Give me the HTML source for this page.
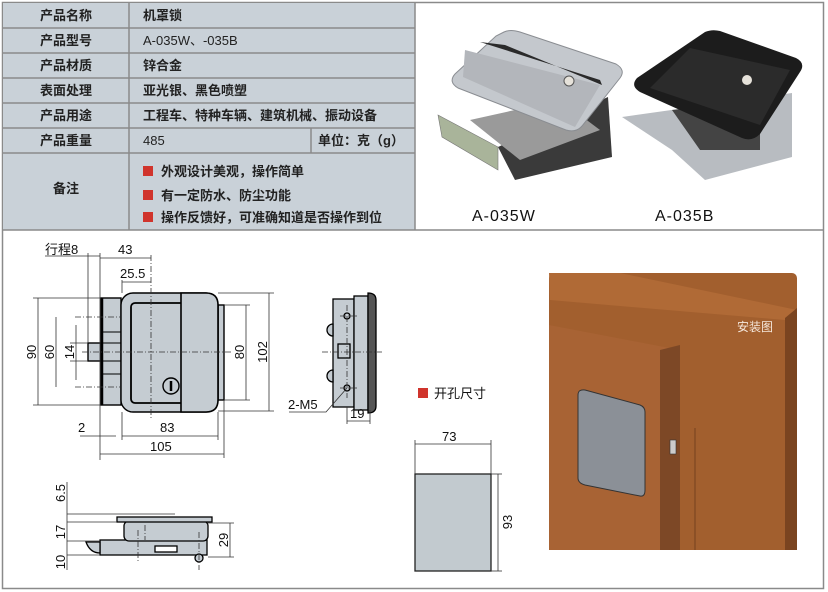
<!DOCTYPE html>
<html><head><meta charset="utf-8"><style>
html,body{margin:0;padding:0;background:#fff;}
svg{display:block;}
text{font-family:"Liberation Sans","Noto Sans CJK SC",sans-serif;}
</style></head><body>
<svg width="828" height="592" viewBox="0 0 828 592" xmlns="http://www.w3.org/2000/svg">
<rect x="2.5" y="2.5" width="821" height="586" fill="#fff" stroke="#8a8a8a" stroke-width="1.5"/>
<rect x="3" y="3" width="412" height="227" fill="#c9d1d8"/>
<g stroke="#8a8a8a" stroke-width="1.5" fill="none">
<line x1="3" y1="28" x2="415" y2="28"/><line x1="3" y1="53" x2="415" y2="53"/>
<line x1="3" y1="78" x2="415" y2="78"/><line x1="3" y1="103" x2="415" y2="103"/>
<line x1="3" y1="128" x2="415" y2="128"/><line x1="3" y1="153" x2="415" y2="153"/>
<line x1="129" y1="3" x2="129" y2="230"/><line x1="311" y1="128" x2="311" y2="153"/>
<line x1="415" y1="3" x2="415" y2="230"/><line x1="3" y1="230" x2="824" y2="230"/>
</g>
<g font-size="13" font-weight="bold" fill="#222" text-anchor="middle">
<text x="66" y="20">产品名称</text><text x="66" y="45">产品型号</text>
<text x="66" y="70">产品材质</text><text x="66" y="95">表面处理</text>
<text x="66" y="120">产品用途</text><text x="66" y="145">产品重量</text>
<text x="66" y="193">备注</text>
</g>
<g font-size="13" fill="#222">
<text x="143" y="20" font-weight="bold">机罩锁</text>
<text x="143" y="45">A-035W、-035B</text>
<text x="143" y="70" font-weight="bold">锌合金</text>
<text x="143" y="95" font-weight="bold">亚光银、黑色喷塑</text>
<text x="143" y="120" font-weight="bold">工程车、特种车辆、建筑机械、振动设备</text>
<text x="143" y="145">485</text>
<text x="318" y="145" font-weight="bold">单位：克（g）</text>
<text x="161" y="176" font-weight="bold">外观设计美观，操作简单</text>
<text x="161" y="200" font-weight="bold">有一定防水、防尘功能</text>
<text x="161" y="222" font-weight="bold">操作反馈好，可准确知道是否操作到位</text>
</g>
<g fill="#d0342c"><rect x="143" y="166" width="10" height="10"/><rect x="143" y="190" width="10" height="10"/><rect x="143" y="212" width="10" height="10"/></g>

<!-- silver product -->
<polygon points="498,147 608,97 612,157 515,180" fill="#3a3a3a"/>
<polygon points="470,120 560,100 600,130 520,160" fill="#9a9a9a"/>
<polygon points="438,115 498,147 498,170 442,137" fill="#a9b49a" stroke="#777" stroke-width="0.6"/>
<path d="M504,32 Q510,29 520,32 L616,64 Q626,70 620,78 L582,126 Q576,133 566,130 L458,88 Q448,82 455,74 L496,36 Z" fill="#c4c8cd" stroke="#8a8d92" stroke-width="1"/>
<polygon points="465,50 600,85 575,127 463,77" fill="#b3b6bb"/>
<polygon points="480,42 600,80 602,85 505,45" fill="#2a2a2a"/>
<circle cx="569" cy="81" r="5" fill="#e6e2da" stroke="#555"/>
<!-- black product -->
<polygon points="622,117 672,150 705,180 792,157 792,93" fill="#b8bcc1"/>
<polygon points="672,110 760,100 760,150 700,150" fill="#444"/>
<path d="M705,32 Q712,29 720,31 L796,58 Q806,63 800,72 L760,134 Q752,142 742,138 L640,92 Q630,86 637,78 Z" fill="#1c1c1c"/>
<polygon points="690,48 790,70 760,125 650,88" fill="#2b2b2b"/>
<circle cx="747" cy="80" r="5" fill="#e6e2da"/>
<g font-size="16" fill="#111" letter-spacing="1">
<text x="472" y="221">A-035W</text><text x="655" y="221">A-035B</text>
</g>

<!-- front view -->
<g stroke="#000" fill="#c5ccd2" stroke-width="1.4">
<rect x="88" y="343" width="13" height="18"/>
<rect x="101" y="298" width="20" height="107"/>
<rect x="218" y="305" width="6" height="95"/>
<rect x="121" y="293" width="97" height="119" rx="12"/>
<rect x="131" y="303" width="78" height="100" rx="4" fill="none" stroke-width="1.8"/>
<path d="M181,293 L206,293 Q218,293 218,305 L218,400 Q218,412 206,412 L181,412 Z" stroke-width="1.6"/>
<circle cx="171" cy="386" r="8" fill="none"/>
</g>
<g stroke="#000" stroke-width="2.5"><line x1="102" y1="298" x2="102" y2="405"/><line x1="171" y1="381" x2="171" y2="391"/></g>
<g stroke="#000" stroke-width="1"><line x1="101" y1="332" x2="121" y2="332"/><line x1="101" y1="343" x2="121" y2="343"/><line x1="101" y1="361" x2="121" y2="361"/><line x1="101" y1="374" x2="121" y2="374"/></g>
<g stroke="#333" stroke-width="0.8" stroke-dasharray="6,2,1,2" fill="none">
<line x1="151" y1="255" x2="151" y2="420"/><line x1="82" y1="352" x2="232" y2="352"/>
<line x1="75" y1="317" x2="120" y2="317"/><line x1="75" y1="387" x2="120" y2="387"/>
</g>
<g stroke="#333" stroke-width="0.8" fill="none">
<line x1="33" y1="298" x2="100" y2="298"/><line x1="33" y1="405" x2="100" y2="405"/><line x1="38" y1="298" x2="38" y2="405"/>
<line x1="56" y1="317" x2="56" y2="387"/>
<line x1="70" y1="343" x2="88" y2="343"/><line x1="70" y1="361" x2="88" y2="361"/><line x1="76" y1="325" x2="76" y2="380"/>
<line x1="224" y1="305" x2="250" y2="305"/><line x1="224" y1="400" x2="250" y2="400"/><line x1="246" y1="305" x2="246" y2="400"/>
<line x1="218" y1="293" x2="274" y2="293"/><line x1="218" y1="411" x2="274" y2="411"/><line x1="269" y1="293" x2="269" y2="411"/>
<line x1="45" y1="256" x2="100" y2="256"/><line x1="88" y1="253" x2="88" y2="343"/><line x1="100" y1="253" x2="100" y2="460"/>
<line x1="100" y1="258" x2="151" y2="258"/>
<line x1="122" y1="280" x2="122" y2="293"/><line x1="122" y1="282" x2="151" y2="282"/>
<line x1="80" y1="436" x2="116" y2="436"/><line x1="122" y1="412" x2="122" y2="440"/><line x1="122" y1="436" x2="218" y2="436"/><line x1="218" y1="412" x2="218" y2="440"/>
<line x1="224" y1="400" x2="224" y2="458"/><line x1="100" y1="454" x2="224" y2="454"/>
</g>
<g font-size="13" fill="#111">
<text x="45" y="254">行程8</text><text x="118" y="254">43</text><text x="120" y="278">25.5</text>
<text x="78" y="432">2</text><text x="160" y="432">83</text><text x="150" y="451">105</text>
<text transform="translate(36,352) rotate(-90)" text-anchor="middle">90</text>
<text transform="translate(54,352) rotate(-90)" text-anchor="middle">60</text>
<text transform="translate(74,352) rotate(-90)" text-anchor="middle">14</text>
<text transform="translate(244,352) rotate(-90)" text-anchor="middle">80</text>
<text transform="translate(267,352) rotate(-90)" text-anchor="middle">102</text>
</g>

<!-- side view -->
<g stroke="#000" stroke-width="1.3" fill="#c5ccd2">
<rect x="333" y="299" width="21" height="108"/>
<rect x="354" y="296" width="14" height="114"/>
<path d="M368,293 Q376,293 376,300 L376,406 Q376,413 368,413 Z" fill="#555"/>
<rect x="338" y="344" width="12" height="14" fill="#c5ccd2"/>
<path d="M333,324 a5,5 0 0 0 0,12 Z"/><path d="M333,370 a5,5 0 0 0 0,12 Z"/>
<circle cx="347" cy="316" r="3"/><circle cx="347" cy="388" r="3"/>
</g>
<g stroke="#333" stroke-width="0.8" stroke-dasharray="6,2,1,2"><line x1="322" y1="352" x2="382" y2="352"/><line x1="340" y1="316" x2="358" y2="316"/><line x1="340" y1="388" x2="358" y2="388"/><line x1="347" y1="305" x2="347" y2="398"/></g>
<g stroke="#333" stroke-width="0.8" fill="none"><polyline points="289,412 326,412 347,388"/><line x1="347" y1="407" x2="347" y2="424"/><line x1="370" y1="410" x2="370" y2="424"/><line x1="347" y1="421" x2="370" y2="421"/></g>
<g font-size="13" fill="#111"><text x="288" y="409">2-M5</text><text x="350" y="418">19</text></g>

<!-- bottom view -->
<g stroke="#000" stroke-width="1.3" fill="#c5ccd2">
<rect x="100" y="540" width="107" height="15"/>
<path d="M86,542 Q90,553 100,553 L100,542 Z"/>
<rect x="124" y="521" width="84" height="20" rx="5"/>
<rect x="117" y="517" width="95" height="5"/>
<rect x="155" y="546" width="22" height="6" fill="#fff"/>
<circle cx="199" cy="558" r="4"/>
</g>
<g stroke="#333" stroke-width="0.8" fill="none">
<line x1="67" y1="482" x2="67" y2="570"/>
<line x1="67" y1="514" x2="175" y2="514"/><line x1="67" y1="522" x2="117" y2="522"/><line x1="67" y1="541" x2="100" y2="541"/><line x1="67" y1="555" x2="100" y2="555"/>
<line x1="208" y1="523" x2="234" y2="523"/><line x1="208" y1="557" x2="234" y2="557"/><line x1="230" y1="523" x2="230" y2="557"/>
</g>
<g stroke="#333" stroke-width="0.8" stroke-dasharray="6,2,1,2"><line x1="138" y1="530" x2="138" y2="563"/><line x1="199" y1="532" x2="199" y2="570"/><line x1="145" y1="525" x2="145" y2="540"/></g>
<g font-size="13" fill="#111">
<text transform="translate(65,493) rotate(-90)" text-anchor="middle">6.5</text>
<text transform="translate(65,532) rotate(-90)" text-anchor="middle">17</text>
<text transform="translate(65,562) rotate(-90)" text-anchor="middle">10</text>
<text transform="translate(228,540) rotate(-90)" text-anchor="middle">29</text>
</g>

<!-- cutout -->
<rect x="418" y="388" width="10" height="10" fill="#d0342c"/>
<text x="434" y="398" font-size="13" fill="#111">开孔尺寸</text>
<rect x="415" y="474" width="76" height="97" fill="#c2cacf" stroke="#222" stroke-width="1.3"/>
<g stroke="#333" stroke-width="0.8" fill="none"><line x1="415" y1="440" x2="415" y2="474"/><line x1="491" y1="440" x2="491" y2="474"/><line x1="415" y1="444" x2="491" y2="444"/>
<line x1="491" y1="474" x2="502" y2="474"/><line x1="491" y1="571" x2="502" y2="571"/><line x1="498" y1="474" x2="498" y2="571"/></g>
<text x="442" y="441" font-size="13" fill="#111">73</text>
<text transform="translate(512,522) rotate(-90)" text-anchor="middle" font-size="13" fill="#111">93</text>

<!-- install image -->
<rect x="549" y="273" width="248" height="277" rx="5" fill="#a25f2e"/>
<polygon points="549,273 620,273 797,310 797,550 785,550 785,320 550,300" fill="#b06a36"/>
<polygon points="785,318 797,308 797,550 785,550" fill="#7a4420"/>
<polygon points="549,325 680,350 680,550 549,550" fill="#a86334"/>
<polygon points="660,350 680,345 680,550 660,550" fill="#7d4826"/>
<line x1="695" y1="428" x2="695" y2="550" stroke="#6a3a1a" stroke-width="0.8"/>
<path d="M585,390 L640,405 Q645,407 645,412 L645,490 Q645,497 640,496 L585,485 Q578,483 578,478 L578,395 Q578,389 585,390 Z" fill="#8b9097" stroke="#333"/>
<rect x="670" y="440" width="6" height="14" fill="#ccc" stroke="#333" stroke-width="0.6"/>
<text x="737" y="331" font-size="12" fill="#f4e6da">安装图</text>
</svg>
</body></html>
